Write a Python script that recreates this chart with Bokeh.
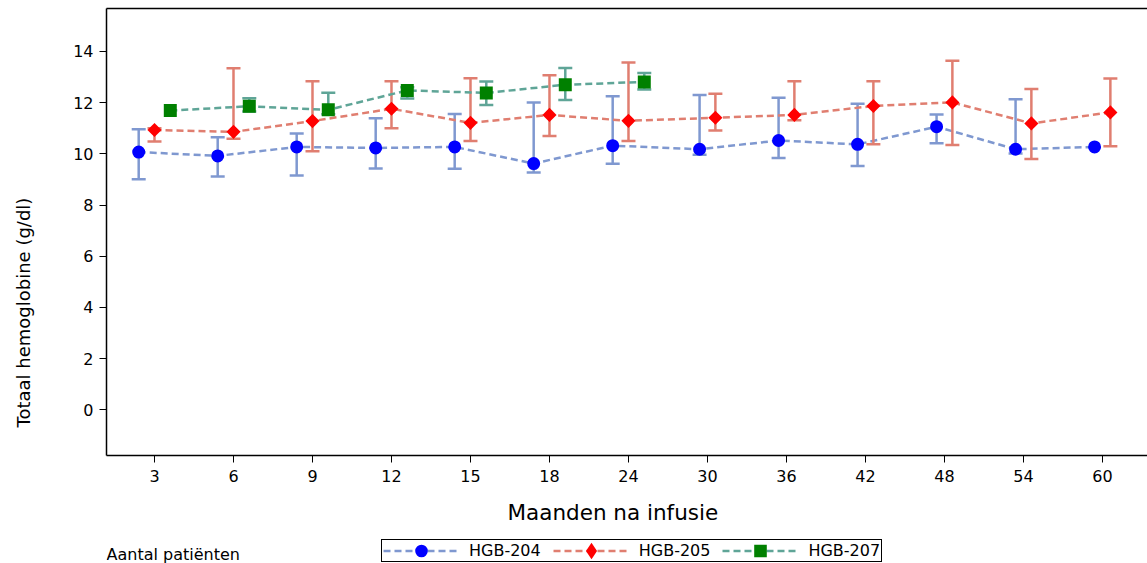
import numpy as np
from bokeh.plotting import figure
from bokeh.layouts import column
from bokeh.models import (LinearAxis, FixedTicker, Legend, LegendItem, Label,
                          Range1d, ColumnDataSource, Title)
from bokeh.embed import file_html
from bokeh.resources import INLINE

# ---------------- data ----------------
months = ["3", "6", "9", "12", "15", "18", "24", "30", "36", "42", "48", "54", "60"]

hgb204_months = months
hgb204_mean = [10.07, 9.92, 10.27, 10.23, 10.27, 9.62, 10.32, 10.18, 10.52, 10.37, 11.06, 10.18, 10.27]
hgb204_upper = [10.96, 10.65, 10.79, 11.39, 11.56, 12.01, 12.25, 12.30, 12.19, 11.96, 11.54, 12.13, None]
hgb204_lower = [9.01, 9.11, 9.15, 9.43, 9.42, 9.27, 9.61, 9.96, 9.84, 9.52, 10.41, 10.01, None]

hgb205_months = months
hgb205_mean = [10.93, 10.86, 11.28, 11.76, 11.21, 11.52, 11.29, 11.41, 11.52, 11.87, 12.01, 11.19, 11.62]
hgb205_upper = [11.00, 13.34, 12.84, 12.84, 12.95, 13.07, 13.57, 12.35, 12.84, 12.84, 13.64, 12.53, 12.94]
hgb205_lower = [10.48, 10.59, 10.10, 11.00, 10.50, 10.70, 10.50, 10.91, 11.31, 10.37, 10.35, 9.80, 10.30]

hgb207_months = ["3", "6", "9", "12", "15", "18", "24"]
hgb207_mean = [11.69, 11.86, 11.72, 12.48, 12.38, 12.70, 12.81]
hgb207_upper = [None, 12.17, 12.39, 12.60, 12.83, 13.35, 13.16]
hgb207_lower = [None, 11.65, 11.55, 12.16, 11.91, 12.10, 12.51]

series_names = ["HGB-204", "HGB-205", "HGB-207"]
y_ticks = [0, 2, 4, 6, 8, 10, 12, 14]

FONT = "DejaVu Sans"
line_colors = ["#7F98D0", "#E07E70", "#5FA597"]
marker_colors = ["#0000FF", "#FF0000", "#008000"]
markers = ["circle", "square", "square"]
legend_markers = ["circle", "diamond", "square"]
marker_sizes = [8, 6.5, 8]
marker_lw = [5, 3.5, 5]
marker_angles = [0, np.pi / 4, 0]

series = [
    (hgb204_months, hgb204_mean, hgb204_upper, hgb204_lower),
    (hgb205_months, hgb205_mean, hgb205_upper, hgb205_lower),
    (hgb207_months, hgb207_mean, hgb207_upper, hgb207_lower),
]

# cluster offsets: groups present at each month are spread around the tick
present = {m: [i for i, s in enumerate(series) if m in s[0]] for m in months}
cluster_step = 0.2


def xpos(m, gi):
    grp = present[m]
    k = grp.index(gi)
    return months.index(m) + (k - (len(grp) - 1) / 2) * cluster_step


# ---------------- main figure ----------------
fig = figure(width=1147, height=537, output_backend="svg", toolbar_location=None,
             x_range=Range1d(-0.6076, 12.57), y_range=Range1d(-1.79, 15.68),
             min_border_left=106, min_border_right=0, min_border_top=8,
             min_border_bottom=81, background_fill_color="white",
             border_fill_color="white")
fig.outline_line_color = None
fig.grid.visible = False

for ax in (fig.xaxis[0], fig.yaxis[0]):
    ax.axis_line_color = "black"
    ax.axis_line_width = 1.5
    ax.major_tick_line_color = "black"
    ax.major_tick_line_width = 1
    ax.major_tick_out = 7
    ax.major_tick_in = 0
    ax.minor_tick_line_color = None
    ax.major_label_text_font = FONT
    ax.major_label_text_font_size = "16px"
    ax.major_label_text_color = "black"

fig.xaxis.ticker = FixedTicker(ticks=list(range(len(months))))
fig.xaxis.major_label_overrides = {i: m for i, m in enumerate(months)}
fig.xaxis.major_label_standoff = 7

fig.yaxis.ticker = FixedTicker(ticks=y_ticks)
fig.yaxis.major_label_standoff = 6

top_axis = LinearAxis(ticker=FixedTicker(ticks=[]), major_tick_out=0, major_tick_in=0,
                      minor_tick_line_color=None, major_label_text_font_size="0px",
                      axis_line_color="black", axis_line_width=1.5)
fig.add_layout(top_axis, "above")

# empty gap between the tick labels and the vertical axis title
gap = Title(text=" ", text_font=FONT, text_font_size="1px", standoff=21,
            text_color="white")
fig.add_layout(gap, "left")

# axis titles
y_title = Title(text="Totaal hemoglobine (g/dl)", text_font=FONT, text_font_size="18px",
                text_font_style="normal", text_color="black", align="left",
                vertical_align="middle", offset=28, standoff=23)
fig.add_layout(y_title, "left")
x_title = Title(text="Maanden na infusie", text_font=FONT, text_font_size="21.5px",
                text_font_style="normal", text_color="black", align="left",
                vertical_align="bottom", offset=401, standoff=26)
fig.add_layout(x_title, "below")

for gi, (ms, mean, up, lo) in enumerate(series):
    xs = [xpos(m, gi) for m in ms]
    src = ColumnDataSource(dict(x=xs, y=mean))
    eb = [(x, u, l) for x, u, l in zip(xs, up, lo) if u is not None]
    esrc = ColumnDataSource(dict(x=[e[0] for e in eb], up=[e[1] for e in eb],
                                 lo=[e[2] for e in eb]))
    fig.segment(x0="x", y0="lo", x1="x", y1="up", source=esrc,
                line_color=line_colors[gi], line_width=2.5)
    fig.scatter(x="x", y="up", source=esrc, marker="dash", size=14,
                line_color=line_colors[gi], line_width=2.5)
    fig.scatter(x="x", y="lo", source=esrc, marker="dash", size=14,
                line_color=line_colors[gi], line_width=2.5)
    fig.line(x="x", y="y", source=src, line_color=line_colors[gi],
             line_width=2.5, line_dash="7 4")

for gi, (ms, mean, up, lo) in enumerate(series):
    xs = [xpos(m, gi) for m in ms]
    fig.scatter(x=xs, y=mean, marker=markers[gi],
                size=marker_sizes[gi], angle=marker_angles[gi],
                fill_color=marker_colors[gi], line_color=marker_colors[gi],
                line_width=marker_lw[gi], line_join="miter")

# ---------------- legend strip ----------------
leg = figure(width=1147, height=26, output_backend="svg", toolbar_location=None,
             x_range=Range1d(0, 1147), y_range=Range1d(0, 26),
             x_axis_type=None, y_axis_type=None, min_border=0,
             background_fill_color="white", border_fill_color="white")
leg.outline_line_color = None
leg.grid.visible = False

items = []
for gi, name in enumerate(series_names):
    # key glyphs only (placed outside the visible strip)
    kl = leg.line(x=[-20, -10], y=[-20, -20], line_color=line_colors[gi],
                  line_width=2.5, line_dash="7 4")
    km = leg.scatter(x=[-20], y=[-20], marker=legend_markers[gi], size=8,
                     fill_color=marker_colors[gi], line_color=marker_colors[gi],
                     line_width=5, line_join="miter")
    items.append(LegendItem(label=name, renderers=[kl, km]))

legend = Legend(items=items, orientation="horizontal", location=(275, 1),
                glyph_width=76, glyph_height=19, label_standoff=10, spacing=12,
                padding=1, margin=0, label_text_font=FONT,
                label_text_font_size="16px", label_height=19,
                label_text_color="black",
                border_line_color="black", border_line_width=1, border_line_alpha=1,
                background_fill_color="white", background_fill_alpha=1)
leg.add_layout(legend, "center")

note = Label(x=0, y=0, x_units="screen", y_units="screen",
             text="Aantal patiënten", text_font=FONT, text_font_size="16px",
             text_baseline="bottom", text_color="black")
leg.add_layout(note)

p = column(fig, leg, spacing=0)

open("out.html", "w").write(file_html(p, INLINE))
